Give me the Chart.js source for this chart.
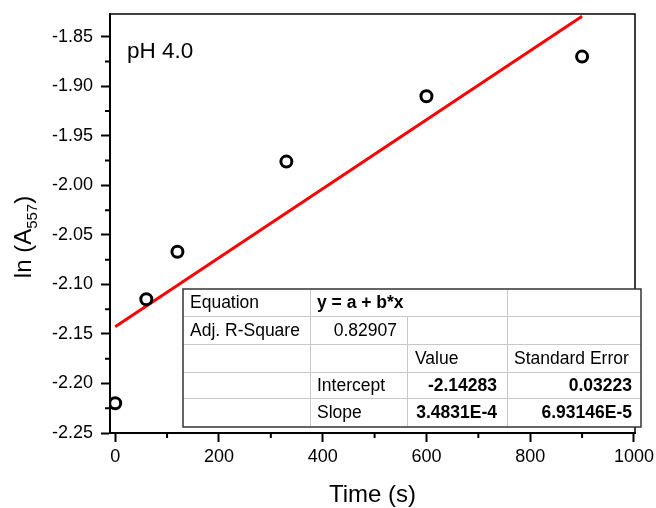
<!DOCTYPE html>
<html>
<head>
<meta charset="utf-8">
<script src="https://cdn.jsdelivr.net/npm/chart.js@4/dist/chart.umd.min.js"></script>
<style>
html,body{margin:0;padding:0;background:#fff;}
#wrap{width:656px;height:508px;}
</style>
</head>
<body>
<div id="wrap"><canvas id="c" width="656" height="508"></canvas></div>
<script>
// ---- data ----
const timeValues = [0, 60, 120, 330, 600, 900];
const lnAValues = [-2.220, -2.115, -2.067, -1.976, -1.910, -1.870];
const fitIntercept = -2.14283;
const fitSlope = 3.4831e-4;
const fitXRange = [0, 900];
const xTickValues = [0, 200, 400, 600, 800, 1000];
const xMinorTickValues = [100, 300, 500, 700, 900];
const yTickValues = [-2.25, -2.20, -2.15, -2.10, -2.05, -2.00, -1.95, -1.90, -1.85];
const yMinorTickValues = [-2.225, -2.175, -2.125, -2.075, -2.025, -1.975, -1.925, -1.875];
const xMin = -10, xMax = 1002, yMin = -2.25, yMax = -1.827;
const panelLabel = 'pH 4.0';
const xTitle = 'Time (s)';
const yTitleMain = 'ln (A';
const yTitleSub = '557';
const yTitleEnd = ')';
const tableCol1 = ['Equation', 'Adj. R-Square', '', '', ''];
const tableCol2 = ['y = a + b*x', '0.82907', '', 'Intercept', 'Slope'];
const tableCol3 = ['', '', 'Value', '-2.14283', '3.4831E-4'];
const tableCol4 = ['', '', 'Standard Error', '0.03223', '6.93146E-5'];

const points = timeValues.map((t, i) => ({x: t, y: lnAValues[i]}));
const fitPoints = fitXRange.map(t => ({x: t, y: fitIntercept + fitSlope * t}));

const FONT = "'Liberation Sans', Arial, Helvetica, sans-serif";

const extrasPlugin = {
  id: 'extras',
  afterDatasetsDraw(chart) {
    const ctx = chart.ctx;
    const a = chart.chartArea;
    const xs = chart.scales.x, ys = chart.scales.y;
    ctx.save();
    // top & right frame
    ctx.strokeStyle = '#000';
    ctx.lineWidth = 1.5;
    ctx.beginPath();
    ctx.moveTo(a.left, a.top); ctx.lineTo(a.right, a.top); ctx.lineTo(a.right, a.bottom);
    ctx.stroke();
    // minor ticks
    ctx.lineWidth = 2;
    ctx.beginPath();
    xMinorTickValues.forEach(v => {
      const px = xs.getPixelForValue(v);
      ctx.moveTo(px, a.bottom); ctx.lineTo(px, a.bottom + 5);
    });
    yMinorTickValues.forEach(v => {
      const py = ys.getPixelForValue(v);
      ctx.moveTo(a.left, py); ctx.lineTo(a.left - 5, py);
    });
    ctx.stroke();
    // panel label
    ctx.fillStyle = '#000';
    ctx.font = '22.5px ' + FONT;
    ctx.textAlign = 'left';
    ctx.textBaseline = 'alphabetic';
    ctx.fillText(panelLabel, 127, 58);
    // y title with subscript
    ctx.translate(31, 237);
    ctx.rotate(-Math.PI / 2);
    const mainFont = '24px ' + FONT, subFont = '15px ' + FONT;
    ctx.font = mainFont; const w1 = ctx.measureText(yTitleMain).width; const w3 = ctx.measureText(yTitleEnd).width;
    ctx.font = subFont; const w2 = ctx.measureText(yTitleSub).width;
    let x0 = -(w1 + w2 + w3) / 2;
    ctx.font = mainFont; ctx.fillText(yTitleMain, x0, 0);
    ctx.font = subFont; ctx.fillText(yTitleSub, x0 + w1, 6);
    ctx.font = mainFont; ctx.fillText(yTitleEnd, x0 + w1 + w2, 0);
    ctx.restore();
  },
  afterDraw(chart) {
    const ctx = chart.ctx;
    ctx.save();
    // x title
    ctx.fillStyle = '#000';
    ctx.font = '24px ' + FONT;
    ctx.textAlign = 'center';
    ctx.textBaseline = 'alphabetic';
    const a = chart.chartArea;
    ctx.fillText(xTitle, (a.left + a.right) / 2, 502);
    // fit table
    const cols = [183, 310, 407, 507, 641];
    const rows = [289, 316, 344, 372, 398, 427];
    ctx.fillStyle = '#fff';
    ctx.fillRect(cols[0], rows[0], cols[4] - cols[0], rows[5] - rows[0]);
    ctx.strokeStyle = '#c8c8c8';
    ctx.lineWidth = 1;
    ctx.beginPath();
    for (let r = 1; r < 5; r++) { ctx.moveTo(cols[0], rows[r] + 0.5); ctx.lineTo(cols[4], rows[r] + 0.5); }
    ctx.moveTo(cols[1] + 0.5, rows[0]); ctx.lineTo(cols[1] + 0.5, rows[5]);
    ctx.moveTo(cols[3] + 0.5, rows[0]); ctx.lineTo(cols[3] + 0.5, rows[5]);
    ctx.moveTo(cols[2] + 0.5, rows[1]); ctx.lineTo(cols[2] + 0.5, rows[5]);
    ctx.stroke();
    ctx.strokeStyle = '#333';
    ctx.lineWidth = 1.5;
    ctx.strokeRect(cols[0], rows[0], cols[4] - cols[0], rows[5] - rows[0]);
    ctx.fillStyle = '#000';
    ctx.textBaseline = 'middle';
    const norm = '17.5px ' + FONT, bold = 'bold 17.5px ' + FONT;
    for (let r = 0; r < 5; r++) {
      const my = (rows[r] + rows[r + 1]) / 2 + 1;
      ctx.font = norm; ctx.textAlign = 'left';
      if (tableCol1[r]) ctx.fillText(tableCol1[r], cols[0] + 7, my);
      if (tableCol2[r]) {
        if (r === 0) { ctx.font = bold; ctx.textAlign = 'left'; ctx.fillText(tableCol2[r], cols[1] + 7, my); }
        else if (r === 1) { ctx.font = norm; ctx.textAlign = 'right'; ctx.fillText(tableCol2[r], cols[2] - 10, my); }
        else { ctx.font = norm; ctx.textAlign = 'left'; ctx.fillText(tableCol2[r], cols[1] + 7, my); }
      }
      if (tableCol3[r]) {
        if (r === 2) { ctx.font = norm; ctx.textAlign = 'left'; ctx.fillText(tableCol3[r], cols[2] + 8, my); }
        else { ctx.font = bold; ctx.textAlign = 'right'; ctx.fillText(tableCol3[r], cols[3] - 10, my); }
      }
      if (tableCol4[r]) {
        if (r === 2) { ctx.font = norm; ctx.textAlign = 'left'; ctx.fillText(tableCol4[r], cols[3] + 7, my); }
        else { ctx.font = bold; ctx.textAlign = 'right'; ctx.fillText(tableCol4[r], cols[4] - 9, my); }
      }
    }
    ctx.restore();
  }
};

new Chart(document.getElementById('c'), {
  type: 'scatter',
  data: {
    datasets: [
      {type: 'line', data: fitPoints, borderColor: '#ff0000', borderWidth: 3, pointRadius: 0, fill: false, tension: 0, order: 2},
      {type: 'scatter', data: points, pointStyle: 'circle', pointRadius: 5.5, borderWidth: 3, borderColor: '#000', backgroundColor: 'rgba(0,0,0,0)', order: 1}
    ]
  },
  options: {
    responsive: false,
    animation: false,
    devicePixelRatio: 1,
    layout: {padding: {top: 14, right: 21, left: 0, bottom: 0}},
    plugins: {legend: {display: false}, tooltip: {enabled: false}},
    scales: {
      x: {
        type: 'linear', min: xMin, max: xMax,
        afterBuildTicks: s => { s.ticks = xTickValues.map(v => ({value: v})); },
        afterFit: s => { s.height = 75; s.paddingLeft = 0; s.paddingRight = 0; },
        grid: {drawOnChartArea: false, drawTicks: true, tickLength: 9, tickWidth: 2, tickColor: '#000'},
        border: {display: true, color: '#000', width: 2},
        ticks: {color: '#000', font: {family: FONT, size: 18}, padding: 4, maxRotation: 0, autoSkip: false, callback: v => String(v)}
      },
      y: {
        type: 'linear', min: yMin, max: yMax,
        afterBuildTicks: s => { s.ticks = yTickValues.map(v => ({value: v})); },
        afterFit: s => { s.width = 110; s.paddingTop = 0; s.paddingBottom = 0; },
        grid: {drawOnChartArea: false, drawTicks: true, tickLength: 9, tickWidth: 2, tickColor: '#000'},
        border: {display: true, color: '#000', width: 2},
        ticks: {color: '#000', font: {family: FONT, size: 18}, padding: 8, autoSkip: false, callback: v => Number(v).toFixed(2)}
      }
    }
  },
  plugins: [extrasPlugin]
});
</script>
</body>
</html>
